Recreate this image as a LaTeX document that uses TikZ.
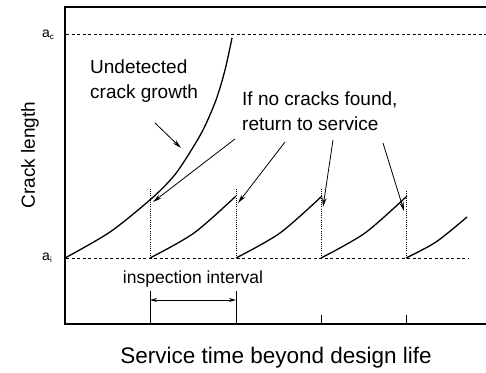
\documentclass[tikz,border=0pt]{standalone}
\usepackage{fontspec}
\setmainfont{Liberation Sans}
\usetikzlibrary{arrows.meta}
\begin{document}
\begin{tikzpicture}[x=1pt,y=-1pt,
  axis/.style={line width=1.3pt},
  curve/.style={line width=1.3pt},
  guide/.style={line width=0.7pt, dash pattern=on 3pt off 2.5pt},
  vdot/.style={line width=0.9pt, dash pattern=on 1pt off 1.2pt},
  pointer/.style={line width=0.8pt, -{Stealth[length=9pt,width=4.5pt]}},
  dim/.style={line width=0.9pt, {Stealth[length=7pt,width=4pt]}-{Stealth[length=7pt,width=4pt]}},
  lbl/.style={font=\fontsize{19}{25}\selectfont, inner sep=0pt, align=left},
  small/.style={font=\fontsize{14}{14}\selectfont, inner sep=0pt},
]
\useasboundingbox (0,0) rectangle (486,372);
% axes
\coordinate (tr) at (486,7);
\coordinate (tl) at (65,7);
\coordinate (bl) at (65,324);
\coordinate (br) at (486,324);
\draw[axis] (tr) -- (tl) -- (bl) -- (br);
% guide levels
\draw[guide] (66,34) -- (486,34);
\draw[guide] (66,258) -- (468,258);
\node[small] (ac) at (48,35) {a\raisebox{-2pt}{\fontsize{8}{8}\selectfont c}};
\node[small] (ai) at (47,258) {a\raisebox{-2pt}{\fontsize{8}{8}\selectfont i}};
% undetected growth
\draw[curve] plot[smooth] coordinates {(65,258) (110,232) (151,199) (173,177) (187,157) (203,130) (216,100) (225,70) (232,38)};
% sawtooth
\foreach \x in {150,236,321} {
  \draw[curve, shift={(\x,0)}] plot[smooth] coordinates {(0,258) (44,233) (86,196)};
}
\draw[curve, shift={(406,0)}] plot[smooth] coordinates {(0,258) (30,242) (61,217)};
% dotted verticals
\foreach \x/\t in {150/188,236/188,321/188,406/190} {
  \draw[vdot] (\x,258) -- (\x,\t);
}
% texts
\node[lbl, anchor=north west] (und) at (90,60) {Undetected\\crack growth};
\node[lbl, anchor=north west] (ret) at (242,92) {If no cracks found,\\return to service};
\coordinate (u1) at (155,123);
\coordinate (u2) at (181,148);
\draw[pointer] (u1) -- (u2);
\coordinate (r1s) at (235,139); \coordinate (r1e) at (153,202);
\coordinate (r2s) at (285,142); \coordinate (r2e) at (238,203);
\coordinate (r3s) at (333,140); \coordinate (r3e) at (323,207);
\coordinate (r4s) at (383,143); \coordinate (r4e) at (404,211);
\draw[pointer] (r1s) -- (r1e);
\draw[pointer] (r2s) -- (r2e);
\draw[pointer] (r3s) -- (r3e);
\draw[pointer] (r4s) -- (r4e);
% inspection interval
\draw[line width=1pt] (150,291) -- (150,324);
\draw[line width=1pt] (236,291) -- (236,324);
\draw[line width=1pt] (321,315) -- (321,324);
\draw[line width=1pt] (406,315) -- (406,324);
\coordinate (d1) at (150,300);
\coordinate (d2) at (236,300);
\draw[dim] (d1) -- (d2);
\node[font=\fontsize{17.5}{20}\selectfont, inner sep=0pt, anchor=base] (ii) at (193,283) {inspection interval};
% axis titles
\node[font=\fontsize{19}{20}\selectfont, inner sep=0pt, rotate=90] (yl) at (30,155) {Crack length};
\node[font=\fontsize{22.5}{24}\selectfont, inner sep=0pt, anchor=base] (xl) at (276,363) {Service time beyond design life};
\end{tikzpicture}
\end{document}
